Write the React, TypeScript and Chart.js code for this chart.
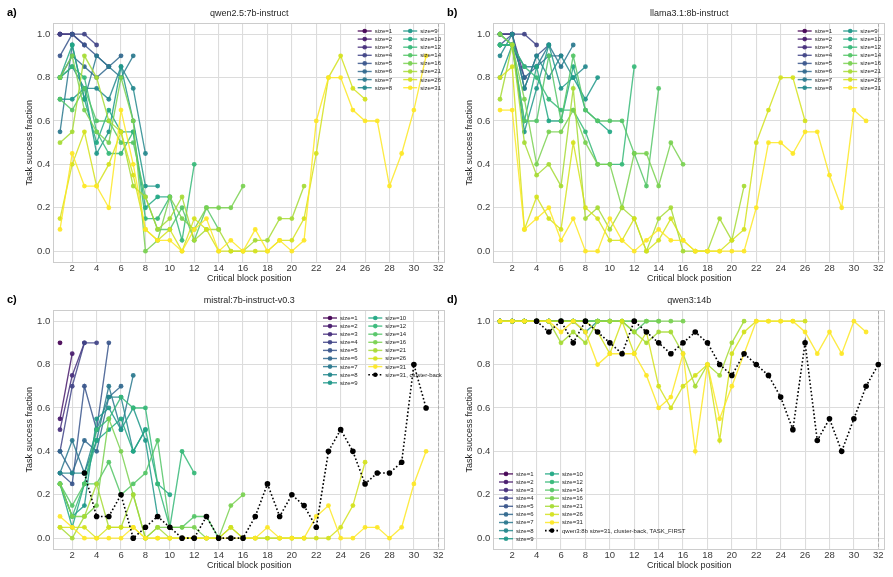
import React, { useEffect, useRef } from "react";
import { Chart, registerables } from "chart.js";

Chart.register(...registerables);
Chart.defaults.font.family = '"Liberation Sans", Arial, Helvetica, sans-serif';

// ---------------- data ----------------
const SIZES = [1, 2, 3, 4, 5, 6, 7, 8, 9, 10, 12, 14, 16, 21, 26, 31];
const X_TICKS = [2, 4, 6, 8, 10, 12, 14, 16, 18, 20, 22, 24, 26, 28, 30, 32];
const Y_TICKS = [0, 0.2, 0.4, 0.6, 0.8, 1.0];
const BLOCK_COUNT = 32;

// a) qwen2.5:7b-instruct — one list per size, value at critical block position 1..size
const QWEN25_VALUES = [
  [1.0],
  [1.0, 1.0],
  [1.0, 1.0, 0.95],
  [1.0, 1.0, 1.0, 0.95],
  [0.9, 1.0, 0.95, 0.9, 0.85],
  [0.8, 0.9, 0.85, 0.8, 0.85, 0.9],
  [0.55, 0.95, 0.7, 0.9, 0.85, 0.8, 0.9],
  [0.8, 0.85, 0.75, 0.75, 0.7, 0.85, 0.75, 0.45],
  [0.7, 0.7, 0.75, 0.45, 0.55, 0.85, 0.6, 0.3, 0.3],
  [0.8, 0.95, 0.7, 0.5, 0.65, 0.55, 0.55, 0.2, 0.25, 0.25],
  [0.8, 0.85, 0.8, 0.55, 0.45, 0.45, 0.55, 0.15, 0.15, 0.25, 0.05, 0.4],
  [0.7, 0.65, 0.75, 0.6, 0.6, 0.5, 0.5, 0.25, 0.1, 0.1, 0.2, 0.05, 0.2, 0.1],
  [0.8, 0.9, 0.65, 0.55, 0.5, 0.8, 0.6, 0.0, 0.05, 0.25, 0.15, 0.1, 0.2, 0.2, 0.2, 0.3],
  [0.5, 0.55, 0.9, 0.8, 0.6, 0.55, 0.3, 0.25, 0.1, 0.15, 0.25, 0.05, 0.1, 0.1, 0.0, 0.0, 0.05, 0.05, 0.15, 0.15, 0.3],
  [0.15, 0.4, 0.55, 0.3, 0.4, 0.55, 0.35, 0.1, 0.05, 0.1, 0.0, 0.15, 0.1, 0.0, 0.0, 0.0, 0.0, 0.0, 0.05, 0.05, 0.15, 0.45, 0.8, 0.9, 0.75, 0.7],
  [0.1, 0.45, 0.3, 0.3, 0.2, 0.65, 0.4, 0.1, 0.05, 0.05, 0.0, 0.1, 0.15, 0.0, 0.05, 0.0, 0.1, 0.0, 0.05, 0.0, 0.05, 0.6, 0.8, 0.8, 0.65, 0.6, 0.6, 0.3, 0.45, 0.65, 0.9],
];

// b) llama3.1:8b-instruct
const LLAMA31_VALUES = [
  [1.0],
  [1.0, 1.0],
  [1.0, 1.0, 0.8],
  [1.0, 1.0, 1.0, 0.95],
  [0.95, 1.0, 0.75, 0.9, 0.95],
  [0.95, 0.95, 0.8, 0.85, 0.9, 0.9],
  [1.0, 0.95, 0.85, 0.85, 0.95, 0.85, 0.95],
  [0.9, 1.0, 0.75, 0.9, 0.8, 0.9, 0.8, 0.85],
  [0.8, 0.95, 0.55, 0.75, 0.95, 0.75, 0.8, 0.7, 0.8],
  [0.95, 0.95, 0.6, 0.85, 0.6, 0.6, 0.85, 0.65, 0.6, 0.55],
  [0.95, 0.95, 0.85, 0.8, 0.7, 0.65, 0.65, 0.55, 0.4, 0.4, 0.4, 0.85],
  [1.0, 0.95, 0.6, 0.6, 0.9, 0.6, 0.9, 0.65, 0.6, 0.6, 0.6, 0.45, 0.3, 0.75],
  [1.0, 0.95, 0.7, 0.4, 0.55, 0.55, 0.65, 0.5, 0.4, 0.4, 0.2, 0.45, 0.45, 0.3, 0.5, 0.4],
  [0.7, 0.95, 0.5, 0.35, 0.4, 0.3, 0.75, 0.15, 0.2, 0.1, 0.2, 0.15, 0.0, 0.15, 0.2, 0.0, 0.0, 0.0, 0.15, 0.05, 0.3],
  [0.8, 0.85, 0.1, 0.25, 0.15, 0.1, 0.5, 0.2, 0.15, 0.05, 0.05, 0.15, 0.0, 0.05, 0.15, 0.05, 0.0, 0.0, 0.0, 0.05, 0.1, 0.5, 0.65, 0.8, 0.8, 0.6],
  [0.65, 0.65, 0.1, 0.15, 0.2, 0.05, 0.15, 0.0, 0.0, 0.15, 0.05, 0.0, 0.05, 0.1, 0.05, 0.05, 0.0, 0.0, 0.0, 0.0, 0.0, 0.2, 0.5, 0.5, 0.45, 0.55, 0.55, 0.35, 0.2, 0.65, 0.6],
];

// c) mistral:7b-instruct-v0.3
const MISTRAL_VALUES = [
  [0.9],
  [0.55, 0.85],
  [0.5, 0.75, 0.9],
  [0.4, 0.7, 0.9, 0.9],
  [0.3, 0.25, 0.7, 0.5, 0.9],
  [0.4, 0.3, 0.45, 0.4, 0.65, 0.7],
  [0.3, 0.45, 0.3, 0.45, 0.7, 0.5, 0.75],
  [0.3, 0.3, 0.3, 0.5, 0.65, 0.65, 0.4, 0.5],
  [0.25, 0.1, 0.15, 0.55, 0.6, 0.5, 0.6, 0.45, 0.1],
  [0.25, 0.05, 0.25, 0.45, 0.5, 0.55, 0.4, 0.5, 0.25, 0.2],
  [0.25, 0.1, 0.25, 0.5, 0.55, 0.65, 0.6, 0.6, 0.25, 0.05, 0.4, 0.3],
  [0.25, 0.15, 0.25, 0.25, 0.35, 0.2, 0.25, 0.3, 0.45, 0.05, 0.05, 0.1, 0.1, 0.0],
  [0.25, 0.1, 0.1, 0.15, 0.55, 0.4, 0.2, 0.0, 0.05, 0.05, 0.05, 0.05, 0.0, 0.0, 0.15, 0.2],
  [0.05, 0.0, 0.1, 0.25, 0.05, 0.05, 0.2, 0.0, 0.05, 0.0, 0.0, 0.0, 0.0, 0.0, 0.05, 0.0, 0.0, 0.0, 0.0, 0.0, 0.0],
  [0.05, 0.05, 0.05, 0.0, 0.05, 0.05, 0.05, 0.0, 0.0, 0.0, 0.0, 0.0, 0.0, 0.0, 0.05, 0.0, 0.0, 0.0, 0.0, 0.0, 0.0, 0.0, 0.0, 0.05, 0.15, 0.35],
  [0.1, 0.05, 0.0, 0.0, 0.0, 0.0, 0.05, 0.0, 0.0, 0.0, 0.0, 0.0, 0.0, 0.0, 0.0, 0.0, 0.0, 0.05, 0.0, 0.0, 0.0, 0.1, 0.15, 0.0, 0.0, 0.05, 0.05, 0.0, 0.05, 0.25, 0.4],
];
const MISTRAL_CLUSTER_BACK = [null, null, 0.3, 0.1, 0.1, 0.2, 0.0, 0.05, 0.1, 0.05, 0.0, 0.0, 0.1, 0.0, 0.0, 0.0, 0.1, 0.25, 0.1, 0.2, 0.15, 0.05, 0.4, 0.5, 0.4, 0.25, 0.3, 0.3, 0.35, 0.8, 0.6];

// d) qwen3:14b
const QWEN3_VALUES = [
  [1.0],
  [1.0, 1.0],
  [1.0, 1.0, 1.0],
  [1.0, 1.0, 1.0, 1.0],
  [1.0, 1.0, 1.0, 1.0, 1.0],
  [1.0, 1.0, 1.0, 1.0, 1.0, 1.0],
  [1.0, 1.0, 1.0, 1.0, 1.0, 1.0, 1.0],
  [1.0, 1.0, 1.0, 1.0, 1.0, 1.0, 1.0, 1.0],
  [1.0, 1.0, 1.0, 1.0, 1.0, 1.0, 1.0, 0.95, 1.0],
  [1.0, 1.0, 1.0, 1.0, 1.0, 1.0, 1.0, 1.0, 1.0, 1.0],
  [1.0, 1.0, 1.0, 1.0, 1.0, 1.0, 1.0, 1.0, 1.0, 1.0, 1.0, 1.0],
  [1.0, 1.0, 1.0, 1.0, 1.0, 1.0, 1.0, 1.0, 1.0, 1.0, 1.0, 0.95, 1.0, 1.0],
  [1.0, 1.0, 1.0, 1.0, 1.0, 1.0, 1.0, 1.0, 1.0, 1.0, 1.0, 1.0, 1.0, 1.0, 1.0, 1.0],
  [1.0, 1.0, 1.0, 1.0, 1.0, 0.9, 0.95, 0.9, 1.0, 1.0, 1.0, 0.95, 0.9, 0.95, 0.95, 0.85, 0.7, 0.8, 0.75, 0.9, 1.0],
  [1.0, 1.0, 1.0, 1.0, 1.0, 1.0, 1.0, 1.0, 0.95, 0.85, 1.0, 0.85, 0.95, 0.7, 0.6, 0.7, 0.75, 0.8, 0.45, 0.85, 0.95, 1.0, 1.0, 1.0, 1.0, 1.0],
  [1.0, 1.0, 1.0, 1.0, 1.0, 0.95, 1.0, 0.95, 0.8, 0.85, 0.85, 0.85, 0.75, 0.6, 0.65, 0.85, 0.4, 0.8, 0.55, 0.7, 0.85, 1.0, 1.0, 1.0, 1.0, 0.95, 0.85, 0.95, 0.85, 1.0, 0.95],
];
const QWEN3_8B_CLUSTER_BACK = [null, null, null, 1.0, 0.95, 1.0, 0.9, 1.0, 0.95, 0.9, 0.85, 1.0, 0.95, 0.9, 0.85, 0.9, 0.95, 0.9, 0.8, 0.75, 0.85, 0.8, 0.75, 0.65, 0.5, 0.9, 0.45, 0.55, 0.4, 0.55, 0.7, 0.8];

// ---------------- styles ----------------
const VIRIDIS = [
  [68, 1, 84], [72, 26, 108], [71, 47, 124], [65, 68, 135], [57, 86, 140], [49, 104, 142],
  [42, 120, 142], [36, 136, 141], [31, 152, 138], [34, 168, 132], [54, 184, 120], [85, 198, 103],
  [122, 209, 81], [166, 219, 53], [212, 226, 29], [253, 231, 37],
];
const rgba = (c: number[], a: number) => `rgba(${c[0]},${c[1]},${c[2]},${a})`;
const TEXT = "#262626";
const TICK_TEXT = "#3a3a3a";
const GRID = "#dcdcdc";
const FRAME = "#cccccc";
const CANVAS_W = 450;
const CANVAS_H = 287;

type LegendSpec = { dx: number; dy: number; colGap: number; fromBottom: boolean };
type PanelProps = {
  label: string;
  title: string;
  values: number[][];
  extra?: { label: string; values: (number | null)[] };
  legend: LegendSpec;
  left: number;
  top: number;
};

function toPoints(vals: (number | null)[]) {
  const pts: { x: number; y: number }[] = [];
  vals.forEach((v, i) => {
    if (v !== null && v !== undefined) pts.push({ x: i + 1, y: v });
  });
  return pts;
}

function Panel({ label, title, values, extra, legend, left, top }: PanelProps) {
  const ref = useRef<HTMLCanvasElement | null>(null);

  useEffect(() => {
    if (!ref.current) return;
    const datasets: any[] = values.map((vals, i) => ({
      label: `size=${SIZES[i]}`,
      data: toPoints(vals),
      borderColor: rgba(VIRIDIS[i], 0.85),
      backgroundColor: rgba(VIRIDIS[i], 0.85),
      borderWidth: 1.35,
      pointRadius: 2.4,
      pointBorderWidth: 0,
      pointBackgroundColor: rgba(VIRIDIS[i], 0.92),
      tension: 0,
      _dotted: false,
    }));
    if (extra) {
      datasets.push({
        label: extra.label,
        data: toPoints(extra.values),
        borderColor: "#000000",
        backgroundColor: "#000000",
        borderWidth: 1.6,
        borderDash: [1.6, 2.2],
        pointRadius: 2.8,
        pointBorderWidth: 0,
        pointBackgroundColor: "#000000",
        tension: 0,
        _dotted: true,
      });
    }
    const n = datasets.length;
    datasets.forEach((d, i) => (d.order = n - 1 - i));

    const decor = {
      id: "decor",
      beforeDatasetsDraw(chart: any) {
        const { ctx, chartArea: a, scales } = chart;
        const x = scales.x.getPixelForValue(BLOCK_COUNT);
        ctx.save();
        ctx.strokeStyle = "rgba(128,128,128,0.5)";
        ctx.lineWidth = 1;
        ctx.setLineDash([3.5, 1.8]);
        ctx.beginPath();
        ctx.moveTo(Math.round(x) + 0.5, a.top);
        ctx.lineTo(Math.round(x) + 0.5, a.bottom);
        ctx.stroke();
        ctx.restore();
      },
      afterDraw(chart: any) {
        const { ctx, chartArea: a } = chart;
        ctx.save();
        // frame
        ctx.strokeStyle = FRAME;
        ctx.lineWidth = 1;
        ctx.strokeRect(Math.round(a.left) + 0.5, Math.round(a.top) + 0.5, Math.round(a.width) - 1, Math.round(a.height));
        // title
        ctx.fillStyle = TEXT;
        ctx.font = '9px "Liberation Sans", Arial, sans-serif';
        ctx.textAlign = "center";
        ctx.textBaseline = "middle";
        ctx.fillText(title, (a.left + a.right) / 2, 14);
        // panel label
        ctx.fillStyle = "#000000";
        ctx.font = 'bold 11px "Liberation Sans", Arial, sans-serif';
        ctx.textAlign = "left";
        ctx.fillText(label, 7, 13);
        // legend
        const rowH = 8.1;
        const ds = chart.data.datasets;
        const rows = Math.ceil(ds.length / 2);
        const y0 = legend.fromBottom ? a.bottom - legend.dy - (rows - 1) * rowH : a.top + legend.dy;
        ctx.font = '6px "Liberation Sans", Arial, sans-serif';
        ctx.textBaseline = "middle";
        ds.forEach((d: any, k: number) => {
          const col = Math.floor(k / rows);
          const row = k % rows;
          const x = a.left + legend.dx + col * legend.colGap;
          const y = y0 + row * rowH;
          ctx.strokeStyle = d.borderColor;
          ctx.lineWidth = d._dotted ? 1.6 : 1.4;
          ctx.setLineDash(d._dotted ? [1.6, 2.2] : []);
          ctx.beginPath();
          ctx.moveTo(x, y);
          ctx.lineTo(x + 14, y);
          ctx.stroke();
          ctx.setLineDash([]);
          ctx.fillStyle = d.pointBackgroundColor;
          ctx.beginPath();
          ctx.arc(x + 7, y, 2.3, 0, Math.PI * 2);
          ctx.fill();
          ctx.fillStyle = TEXT;
          ctx.fillText(d.label, x + 17, y + 0.3);
        });
        ctx.restore();
      },
    };

    const chart = new Chart(ref.current, {
      type: "line",
      data: { datasets },
      options: {
        animation: false,
        responsive: false,
        devicePixelRatio: 1,
        parsing: false as any,
        layout: { padding: { left: 23, right: 5, top: 23.3, bottom: 0 } },
        plugins: { legend: { display: false }, tooltip: { enabled: false }, title: { display: false } },
        scales: {
          x: {
            type: "linear",
            min: 0.45,
            max: 32.55,
            afterBuildTicks: (s: any) => {
              s.ticks = X_TICKS.map((v) => ({ value: v }));
            },
            afterFit: (s: any) => {
              s.height = 25;
            },
            ticks: {
              autoSkip: false,
              maxRotation: 0,
              padding: 1,
              color: TICK_TEXT,
              font: { size: 9.5 },
              callback: (v: any) => String(v),
            },
            grid: { color: GRID, lineWidth: 1.1, drawTicks: false },
            border: { display: false },
            title: {
              display: true,
              text: "Critical block position",
              color: TEXT,
              font: { size: 9 },
              padding: { top: 0, bottom: 2.8 },
            },
          },
          y: {
            type: "linear",
            min: -0.05,
            max: 1.05,
            afterBuildTicks: (s: any) => {
              s.ticks = Y_TICKS.map((v) => ({ value: v }));
            },
            afterFit: (s: any) => {
              s.width = 30.3;
            },
            ticks: {
              padding: 3,
              color: TICK_TEXT,
              font: { size: 9.5 },
              callback: (v: any) => Number(v).toFixed(1),
            },
            grid: { color: GRID, lineWidth: 1.1, drawTicks: false },
            border: { display: false },
            title: {
              display: true,
              text: "Task success fraction",
              color: TEXT,
              font: { size: 9 },
              padding: { top: 1, bottom: 0 },
            },
          },
        },
      },
      plugins: [decor],
    });
    return () => chart.destroy();
  }, [label, title, values, extra, legend]);

  return (
    <div style={{ position: "absolute", left, top, width: CANVAS_W, height: CANVAS_H }}>
      <canvas ref={ref} width={CANVAS_W} height={CANVAS_H} style={{ display: "block", width: CANVAS_W, height: CANVAS_H }} />
    </div>
  );
}

const LEGEND_A = { dx: 304.4, dy: 7.7, colGap: 45.5, fromBottom: false };
const LEGEND_C = { dx: 269.7, dy: 7.7, colGap: 45.3, fromBottom: false };
const LEGEND_D = { dx: 5.7, dy: 10.3, colGap: 46, fromBottom: true };
const EXTRA_C = { label: "size=31, cluster-back", values: MISTRAL_CLUSTER_BACK };
const EXTRA_D = { label: "qwen3:8b size=31, cluster-back, TASK_FIRST", values: QWEN3_8B_CLUSTER_BACK };

export default function App() {
  return (
    <div style={{ position: "absolute", left: 0, top: 0, width: 893, height: 577, background: "#ffffff", overflow: "hidden" }}>
      <Panel label="a)" title="qwen2.5:7b-instruct" values={QWEN25_VALUES} legend={LEGEND_A} left={0} top={0} />
      <Panel label="b)" title="llama3.1:8b-instruct" values={LLAMA31_VALUES} legend={LEGEND_A} left={440} top={0} />
      <Panel label="c)" title="mistral:7b-instruct-v0.3" values={MISTRAL_VALUES} extra={EXTRA_C} legend={LEGEND_C} left={0} top={287} />
      <Panel label="d)" title="qwen3:14b" values={QWEN3_VALUES} extra={EXTRA_D} legend={LEGEND_D} left={440} top={287} />
    </div>
  );
}
